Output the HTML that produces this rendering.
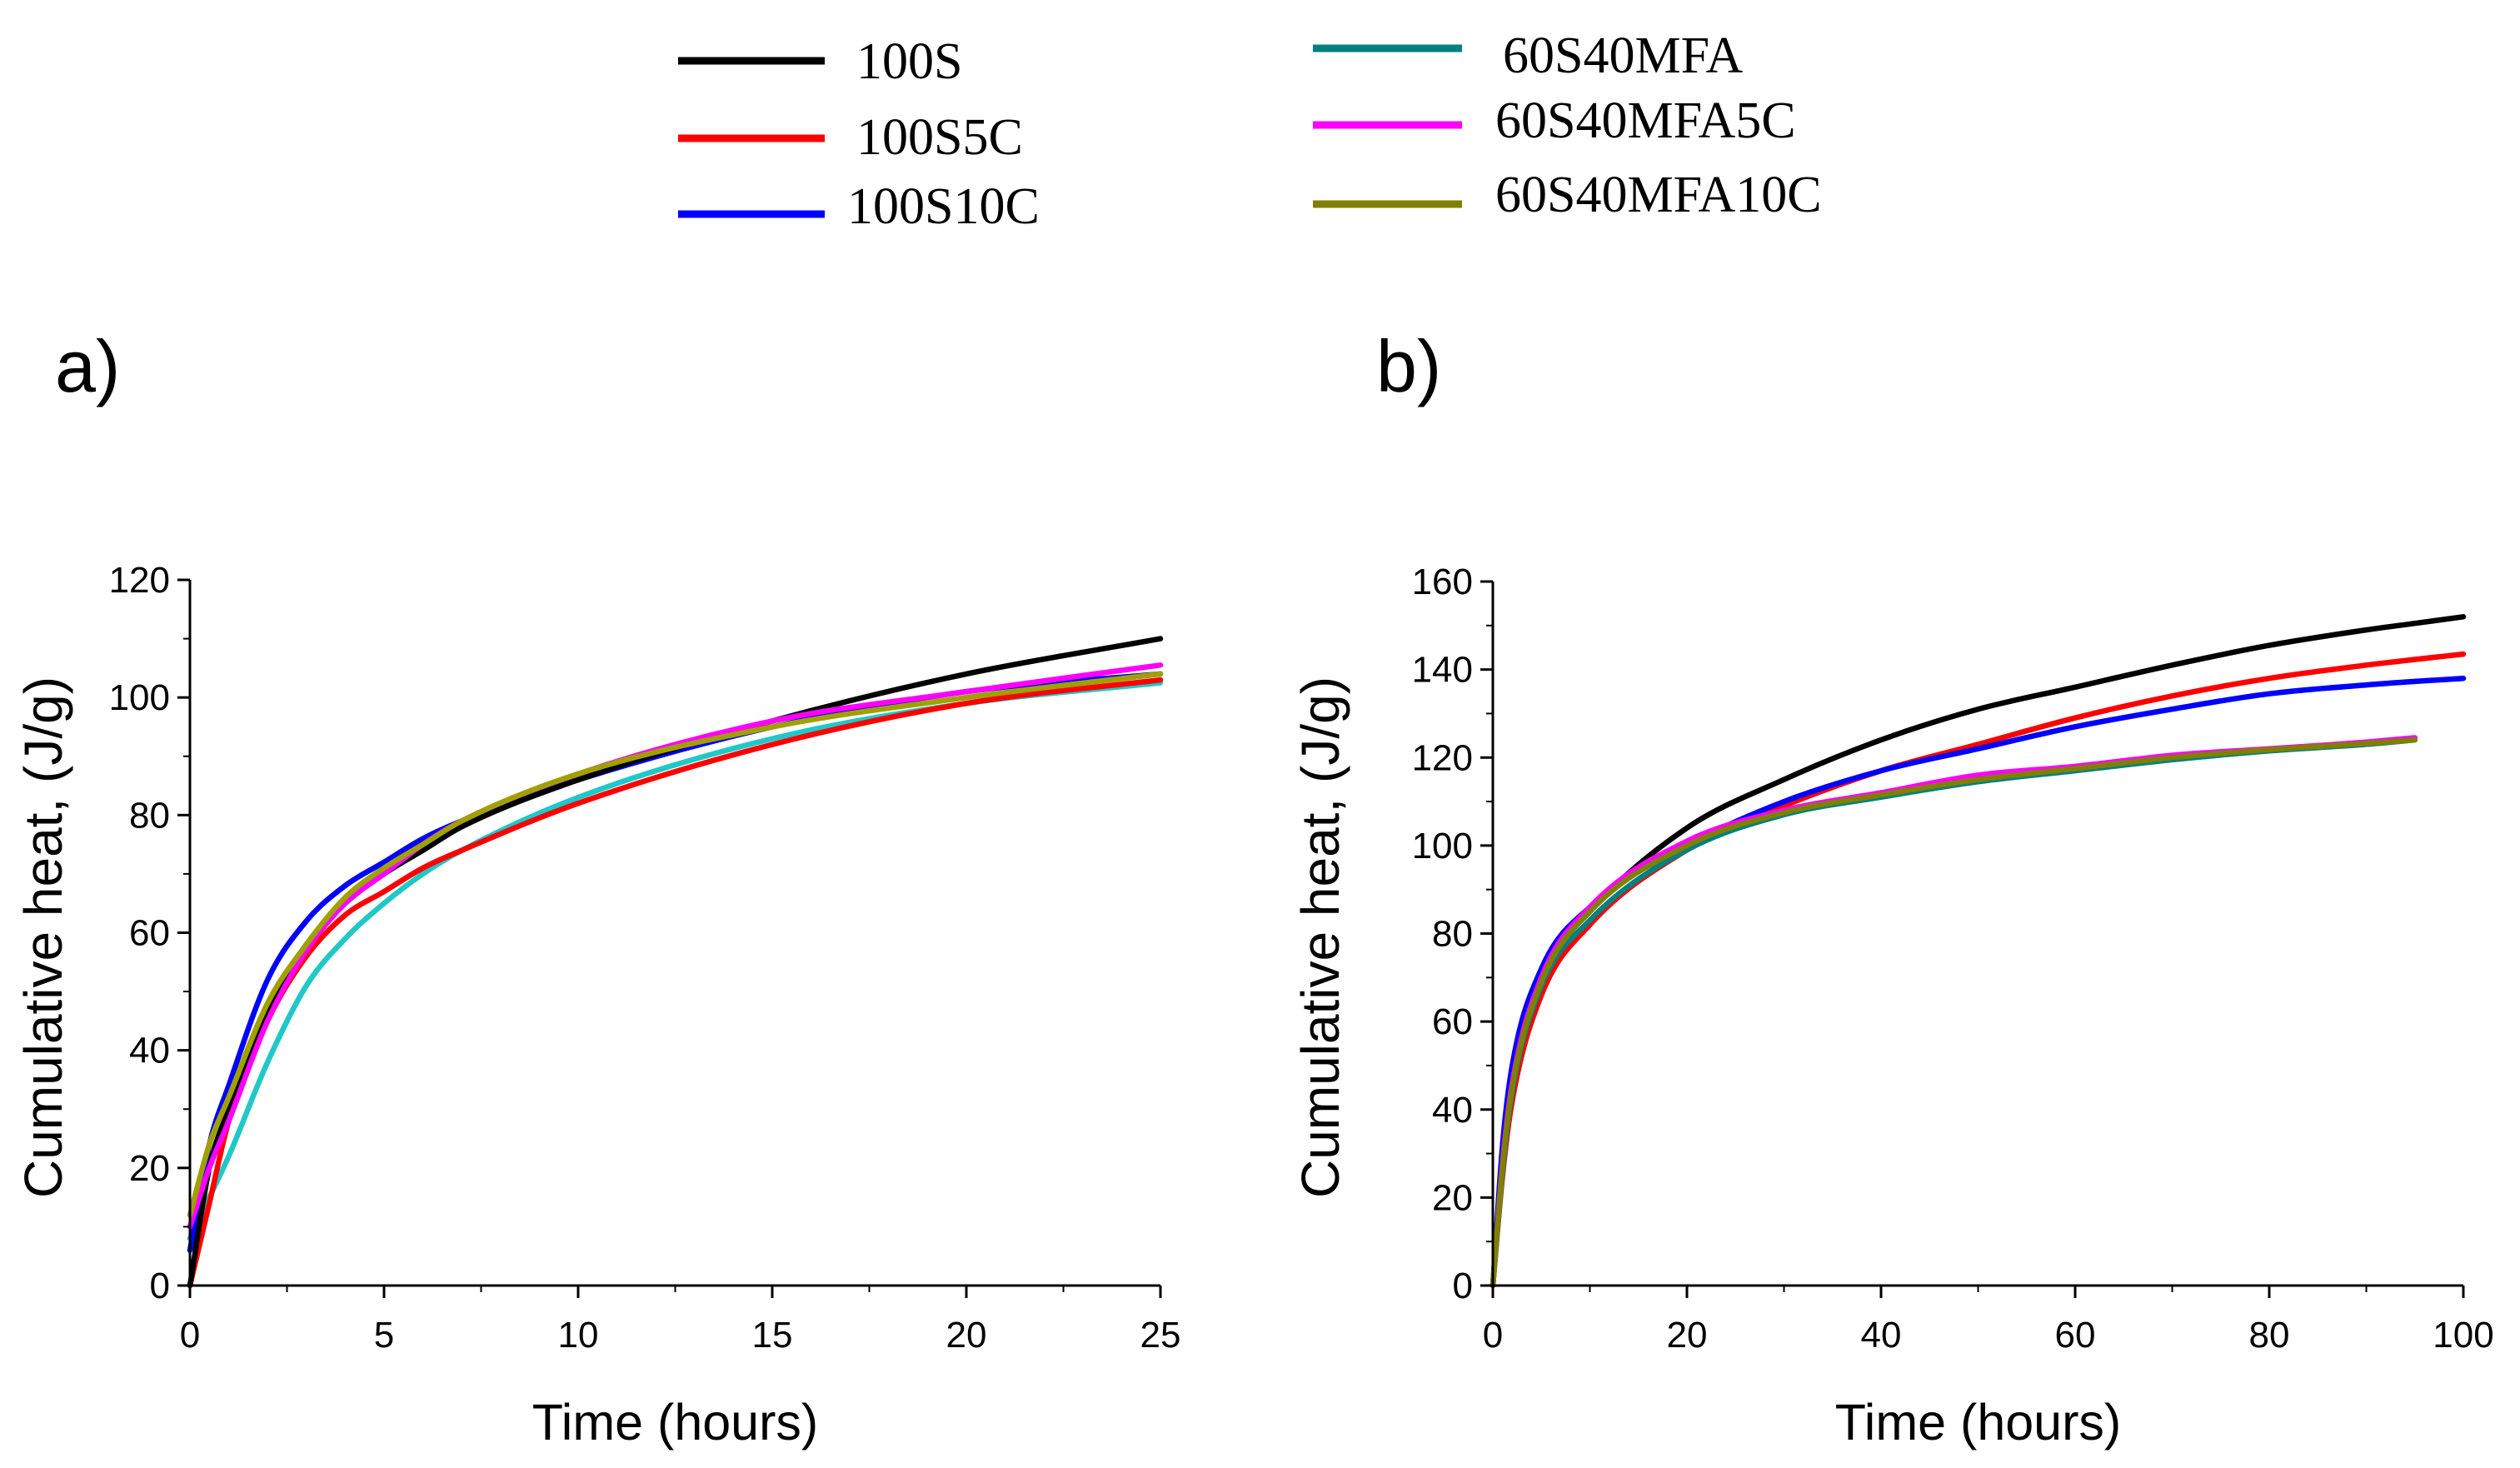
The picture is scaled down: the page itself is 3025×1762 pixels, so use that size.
<!DOCTYPE html>
<html><head><meta charset="utf-8"><style>
body{margin:0;background:#fff}
svg{display:block}
.tk{font-family:"Liberation Sans",Arial,sans-serif;font-size:44px;fill:#000}
.ax{font-family:"Liberation Sans",Arial,sans-serif;font-size:61px;fill:#000}
.ay{font-family:"Liberation Sans",Arial,sans-serif;font-size:64px;fill:#000}
.lg{font-family:"Liberation Serif",serif;font-size:62px;fill:#000}
</style></head><body>
<svg id="fig" width="3025" height="1762" viewBox="0 0 3025 1762" xmlns="http://www.w3.org/2000/svg">
<g>
<line x1="814" y1="73" x2="990" y2="73" stroke="#000" stroke-width="9"/>
<text class="lg" x="1028" y="94">100S</text>
<line x1="814" y1="166" x2="990" y2="166" stroke="#ff0000" stroke-width="9"/>
<text class="lg" x="1028" y="185">100S5C</text>
<line x1="814" y1="257" x2="990" y2="257" stroke="#0000ff" stroke-width="9"/>
<text class="lg" x="1017" y="268">100S10C</text>
<line x1="1576" y1="58" x2="1755" y2="58" stroke="#008080" stroke-width="9"/>
<text class="lg" x="1804" y="87">60S40MFA</text>
<line x1="1576" y1="150" x2="1755" y2="150" stroke="#ff00ff" stroke-width="9"/>
<text class="lg" x="1795" y="165">60S40MFA5C</text>
<line x1="1576" y1="245" x2="1755" y2="245" stroke="#808000" stroke-width="9"/>
<text class="lg" x="1795" y="254">60S40MFA10C</text>
</g>
<text x="66" y="470" style="font-family:'Liberation Sans',sans-serif;font-size:88px">a)</text>
<text x="1652" y="470" style="font-family:'Liberation Sans',sans-serif;font-size:88px">b)</text>
</svg>
<script>
const NS="http://www.w3.org/2000/svg";
const svg=document.getElementById('fig');
// Panel a data
const aX=[0,0.5,1,2,3,4,5,6,7,10,15,20,25];
const a100S=[0,20,30,47,58,65,70,74,78,86,96,104,110];
const a100S5C=[0,14,28,45,56,63,67,71,74,82,92,99,103];
const a100S10C=[6,24,34,52,62,68,72,76,79,86,95,101,104];
const a60S40MFA=[8,15,22,38,51,59,65,70,74,83,93,99,102.5];
const a60S40MFA5C=[10,20,28,45,57,65,70,75,79,87,96,101,105.5];
const a60S40MFA10C=[12,24,32,48,58,66,71,75,79,87,95,100,104];
const aYTicks=[0,20,40,60,80,100,120];
const aXTicks=[0,5,10,15,20,25];
// Panel b data
const bX=[0,1,2,5,10,20,30,40,50,60,70,80,90,95,100];
const b100S=[0,28,45,70,85,104,115,124,131,136,141,145.5,149,150.5,152];
const b100S5C=[0,25,42,66,82,99,109,117,123,129,134,138,141,142.3,143.5];
const b100S10C=[0,32,50,72,86,100,110,117,122,127,131,134.5,136.5,137.3,138];
const b60S40MFA=[0,26,44,68,83,99,107,111,114.5,117,119.5,121.5,123,124,null];
const b60S40MFA5C=[0,28,46,70,86,101,108,112,116,118,120.5,122,123.5,124.5,null];
const b60S40MFA10C=[0,27,45,69,85,100,107.5,111.5,115,117.5,120,121.8,123.2,124,null];
const bYTicks=[0,20,40,60,80,100,120,140,160];
const bXTicks=[0,20,40,60,80,100];

function el(t,a,name,parent){const e=document.createElementNS(NS,t);for(const k in a)e.setAttribute(k,a[k]);


(parent||svg).appendChild(e);return e;}

// monotone cubic (Fritsch-Carlson) path through pixel points
function monoPath(P){
  const n=P.length;if(n<2)return '';
  const dx=[],m=[],t=[];
  for(let i=0;i<n-1;i++){dx[i]=P[i+1][0]-P[i][0];m[i]=(P[i+1][1]-P[i][1])/dx[i];}
  t[0]=m[0];t[n-1]=m[n-2];
  for(let i=1;i<n-1;i++){t[i]=(m[i-1]*m[i]<=0)?0:(m[i-1]+m[i])/2;}
  for(let i=0;i<n-1;i++){if(m[i]===0){t[i]=0;t[i+1]=0;continue;}
    const a=t[i]/m[i],b=t[i+1]/m[i],s=a*a+b*b;if(s>9){const k=3/Math.sqrt(s);t[i]=k*a*m[i];t[i+1]=k*b*m[i];}}
  let d='M'+P[0][0].toFixed(1)+','+P[0][1].toFixed(1);
  for(let i=0;i<n-1;i++){const h=dx[i]/3;
    d+='C'+(P[i][0]+h).toFixed(1)+','+(P[i][1]+t[i]*h).toFixed(1)+' '+(P[i+1][0]-h).toFixed(1)+','+(P[i+1][1]-t[i+1]*h).toFixed(1)+' '+P[i+1][0].toFixed(1)+','+P[i+1][1].toFixed(1);}
  return d;
}

function panel(id,cfg){
  const g=el('g',{},id+'-chart');
  const sx=v=>cfg.x0+(v-cfg.xmin)/(cfg.xmax-cfg.xmin)*(cfg.x1-cfg.x0);
  const sy=v=>cfg.y0-(v-cfg.ymin)/(cfg.ymax-cfg.ymin)*(cfg.y0-cfg.y1);
  cfg.series.forEach(s=>{
    const P=[];
    cfg.xs.forEach((x,i)=>{const v=s.v[i];if(v==null)return;P.push([sx(x),sy(v)]);});
    el('path',{d:monoPath(P),fill:'none',stroke:s.c,'stroke-width':6.5,'stroke-linejoin':'round','stroke-linecap':'round'},id+'-line-'+s.n,g);
  });
  el('line',{x1:cfg.x0,y1:cfg.y0,x2:cfg.x0,y2:cfg.y1,stroke:'#000','stroke-width':3},id+'-y-axis',g);
  el('line',{x1:cfg.x0,y1:cfg.y0,x2:cfg.x1,y2:cfg.y0,stroke:'#000','stroke-width':3},id+'-x-axis',g);
  cfg.yt.forEach((v,i)=>{
    el('line',{x1:cfg.x0-15,y1:sy(v),x2:cfg.x0,y2:sy(v),stroke:'#000','stroke-width':3},id+'-y-tick',g);
    if(i<cfg.yt.length-1){const m=(v+cfg.yt[i+1])/2;el('line',{x1:cfg.x0-8,y1:sy(m),x2:cfg.x0,y2:sy(m),stroke:'#000','stroke-width':2},id+'-y-minor-tick',g);}
    const t=el('text',{x:cfg.x0-24,y:sy(v)+15,'text-anchor':'end',class:'tk'},id+'-y-tick-label',g);t.textContent=v;
  });
  cfg.xt.forEach((v,i)=>{
    el('line',{x1:sx(v),y1:cfg.y0,x2:sx(v),y2:cfg.y0+15,stroke:'#000','stroke-width':3},id+'-x-tick',g);
    if(i<cfg.xt.length-1){const m=(v+cfg.xt[i+1])/2;el('line',{x1:sx(m),y1:cfg.y0,x2:sx(m),y2:cfg.y0+8,stroke:'#000','stroke-width':2},id+'-x-minor-tick',g);}
    const t=el('text',{x:sx(v),y:cfg.y0+74,'text-anchor':'middle',class:'tk'},id+'-x-tick-label',g);t.textContent=v;
  });
  const xt=el('text',{x:(cfg.x0+cfg.x1)/2,y:1728,'text-anchor':'middle',class:'ax'},id+'-x-axis-title',g);xt.textContent='Time (hours)';
  const yx=cfg.ylabx, yy=1125;
  const yt=el('text',{x:yx,y:yy,'text-anchor':'middle',class:'ay',transform:'rotate(-90 '+yx+' '+yy+')'},id+'-y-axis-title',g);yt.textContent='Cumulative heat, (J/g)';
}
panel('panel-a',{x0:228,x1:1393,y0:1543,y1:696,xmin:0,xmax:25,ymin:0,ymax:120,xs:aX,yt:aYTicks,xt:aXTicks,ylabx:74,
 series:[{n:'60s40mfa',c:'#20c8c8',v:a60S40MFA},{n:'100s5c',c:'#ff0000',v:a100S5C},{n:'100s10c',c:'#0000ff',v:a100S10C},{n:'100s',c:'#000',v:a100S},{n:'60s40mfa5c',c:'#ff00ff',v:a60S40MFA5C},{n:'60s40mfa10c',c:'#a0a000',v:a60S40MFA10C}]});
panel('panel-b',{x0:1792,x1:2957,y0:1543,y1:698,xmin:0,xmax:100,ymin:0,ymax:160,xs:bX,yt:bYTicks,xt:bXTicks,ylabx:1607,
 series:[{n:'100s',c:'#000',v:b100S},{n:'100s5c',c:'#ff0000',v:b100S5C},{n:'100s10c',c:'#0000ff',v:b100S10C},{n:'60s40mfa5c',c:'#ff00ff',v:b60S40MFA5C},{n:'60s40mfa',c:'#008080',v:b60S40MFA},{n:'60s40mfa10c',c:'#808000',v:b60S40MFA10C}]});
</script>
</body></html>
